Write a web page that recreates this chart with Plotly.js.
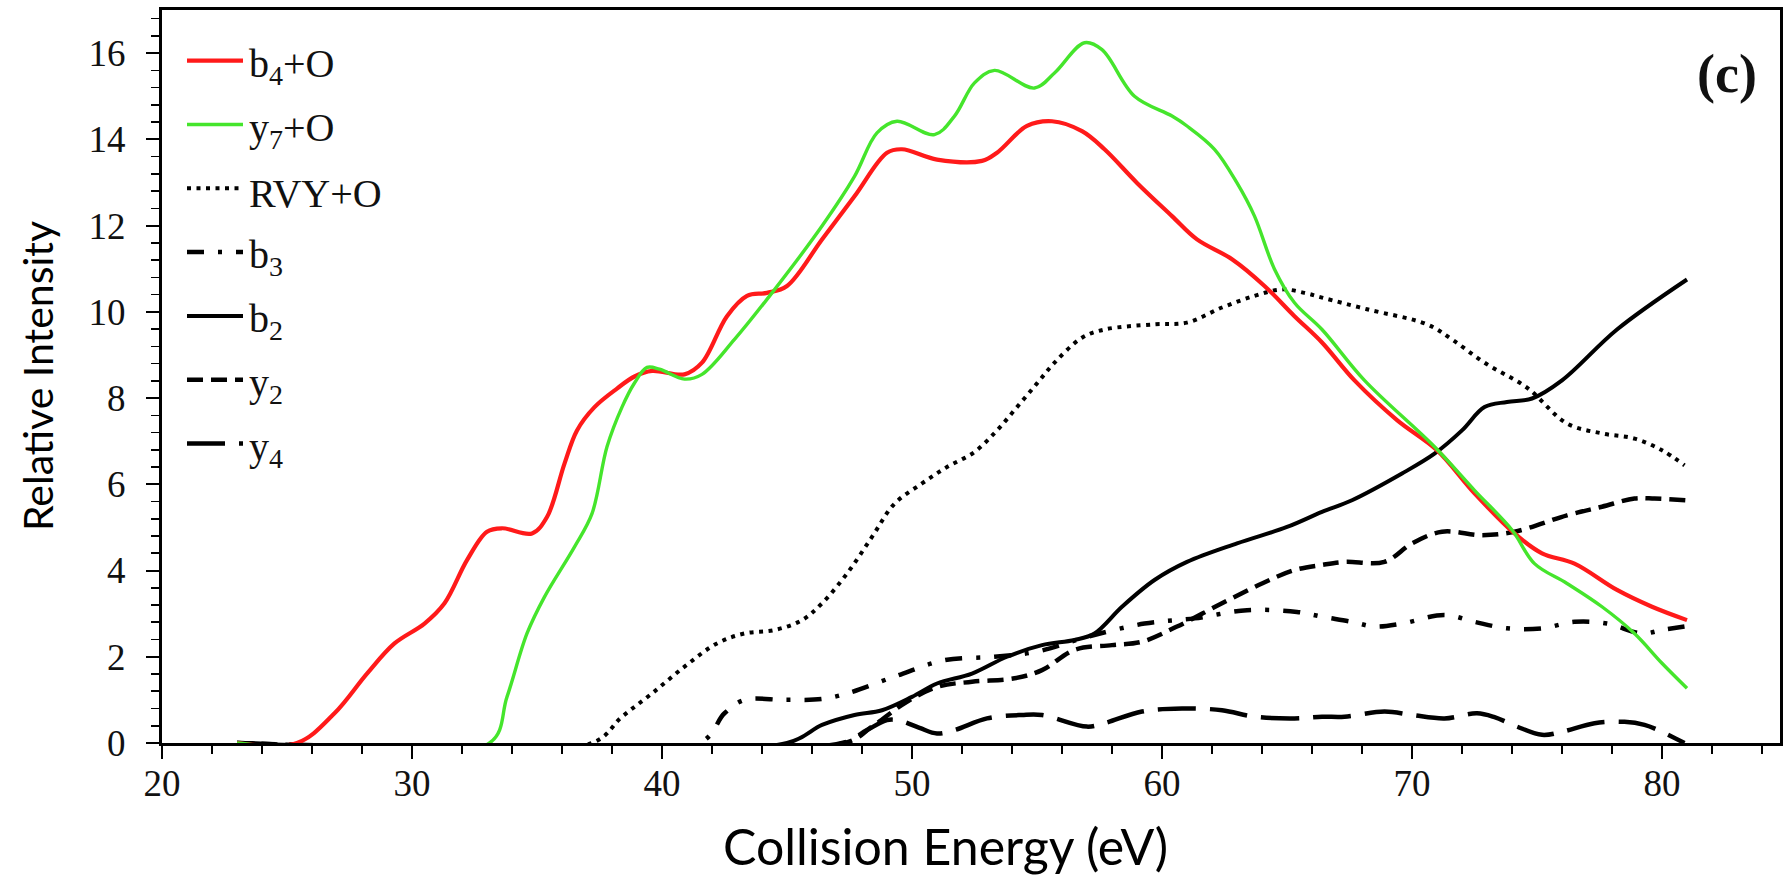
<!DOCTYPE html>
<html>
<head>
<meta charset="utf-8">
<script src="https://cdn.plot.ly/plotly-3.0.1.min.js"></script>
<style>
  html, body { margin: 0; padding: 0; background: #fff; }
  #chart { width: 1785px; height: 896px; }
</style>
</head>
<body>
<div id="chart"></div>
<script>
// Collision energy (eV) and relative intensity for each fragment ion
const b4O_x = [23, 25.4, 26.9, 28.2, 29.3, 30.5, 31.3, 32.2, 33.0, 33.6, 34.8, 35.4, 36.1, 36.6, 37.3, 38.2, 38.9, 39.6, 40.9, 41.6, 42.6, 43.4, 44.2, 45.0, 46.4, 47.7, 49.0, 49.6, 51.0, 52.8, 53.4, 54.6, 55.6, 56.8, 57.7, 59.0, 60.4, 61.4, 62.8, 64.1, 65.3, 66.4, 67.7, 69.4, 71.0, 72.5, 74.1, 75.2, 76.5, 78.2, 79.6, 81.0];
const b4O_y = [0, 0, 0.69, 1.61, 2.31, 2.77, 3.24, 4.24, 4.90, 4.98, 4.86, 5.24, 6.48, 7.25, 7.79, 8.22, 8.50, 8.63, 8.55, 8.82, 9.90, 10.37, 10.44, 10.60, 11.68, 12.68, 13.69, 13.77, 13.53, 13.50, 13.69, 14.31, 14.42, 14.19, 13.77, 12.99, 12.22, 11.68, 11.22, 10.60, 9.90, 9.29, 8.41, 7.49, 6.79, 5.79, 4.86, 4.40, 4.16, 3.55, 3.16, 2.85];

const y7O_x = [23, 33.1, 33.8, 34.6, 35.3, 36.5, 37.2, 37.8, 38.4, 38.9, 39.4, 39.9, 40.9, 41.6, 42.9, 44.4, 46.4, 47.7, 48.6, 49.4, 50.9, 51.7, 52.5, 53.3, 54.9, 55.7, 56.9, 57.6, 58.9, 60.4, 61.0, 62.1, 63.0, 63.7, 64.5, 65.3, 66.4, 68.1, 70.9, 72.5, 74.0, 74.9, 76.2, 77.6, 78.9, 80.0, 81.0];
const y7O_y = [0, 0, 1.07, 2.54, 3.39, 4.55, 5.32, 6.87, 7.79, 8.35, 8.71, 8.67, 8.44, 8.55, 9.36, 10.44, 11.99, 13.14, 14.15, 14.42, 14.11, 14.54, 15.31, 15.60, 15.19, 15.54, 16.24, 16.08, 15.00, 14.54, 14.31, 13.77, 12.99, 12.22, 10.99, 10.21, 9.59, 8.41, 6.87, 5.86, 4.94, 4.16, 3.70, 3.16, 2.54, 1.85, 1.27];

const rvyO_x = [23, 37.2, 38.4, 39.6, 40.9, 42.2, 43.3, 44.5, 45.6, 46.4, 47.4, 48.4, 49.3, 50.4, 51.4, 52.5, 53.4, 54.2, 55.0, 55.7, 56.8, 57.7, 59.7, 61.0, 62.4, 63.7, 64.8, 65.7, 66.4, 68.2, 70.6, 71.6, 72.9, 74.6, 76.2, 77.6, 78.9, 80.0, 80.9];
const rvyO_y = [0, 0, 0.61, 1.15, 1.77, 2.31, 2.54, 2.62, 2.85, 3.24, 3.93, 4.78, 5.55, 6.02, 6.40, 6.75, 7.25, 7.79, 8.34, 8.82, 9.40, 9.59, 9.71, 9.75, 10.10, 10.37, 10.52, 10.44, 10.33, 10.06, 9.71, 9.36, 8.82, 8.24, 7.41, 7.18, 7.06, 6.79, 6.44];

const b3_x = [23, 41.5, 42.5, 43.3, 44.9, 46.4, 47.4, 49.3, 51.3, 53.3, 55.0, 57.0, 59.3, 61.3, 63.4, 65.4, 66.4, 67.6, 68.5, 69.6, 71.3, 72.5, 73.8, 75.2, 76.5, 77.8, 79.2, 80.0, 80.9];
const b3_y = [0, 0, 0.69, 1.00, 1.00, 1.02, 1.15, 1.54, 1.92, 2.00, 2.12, 2.46, 2.77, 2.89, 3.08, 3.04, 2.93, 2.81, 2.70, 2.77, 2.97, 2.81, 2.66, 2.66, 2.81, 2.77, 2.54, 2.62, 2.70];

const b2_x = [23, 45.0, 46.4, 47.7, 48.8, 50.0, 51.0, 52.4, 53.8, 55.2, 56.5, 57.3, 58.4, 59.7, 61.0, 63.0, 65.0, 66.4, 67.6, 69.6, 70.9, 72.0, 72.9, 73.8, 74.8, 76.0, 78.2, 81.0];
const b2_y = [0, 0, 0.42, 0.65, 0.76, 1.07, 1.38, 1.61, 2.00, 2.27, 2.39, 2.54, 3.16, 3.78, 4.20, 4.63, 5.01, 5.36, 5.63, 6.25, 6.71, 7.25, 7.79, 7.91, 7.99, 8.41, 9.59, 10.75];

const y2_x = [23, 47.3, 48.4, 49.7, 51.0, 52.4, 54.1, 55.2, 56.5, 58.0, 59.2, 60.6, 62.4, 64.0, 65.3, 66.4, 67.3, 68.9, 70.0, 71.2, 72.8, 74.1, 76.2, 77.6, 78.9, 79.7, 81.0];
const y2_y = [0, 0, 0.38, 0.92, 1.30, 1.42, 1.50, 1.69, 2.16, 2.27, 2.35, 2.70, 3.24, 3.70, 4.01, 4.13, 4.20, 4.20, 4.63, 4.90, 4.82, 4.90, 5.28, 5.48, 5.67, 5.67, 5.63];

const y4_x = [23, 47.2, 48.2, 49.0, 49.5, 50.3, 51.0, 51.7, 53.0, 54.4, 55.2, 57.0, 57.7, 59.2, 60.8, 62.4, 63.7, 65.3, 66.4, 67.3, 68.9, 70.0, 71.3, 72.6, 73.3, 74.2, 75.2, 76.0, 77.3, 78.5, 79.3, 80.0, 80.9];
const y4_y = [0, 0, 0.30, 0.53, 0.52, 0.35, 0.22, 0.30, 0.57, 0.65, 0.65, 0.38, 0.46, 0.73, 0.80, 0.76, 0.61, 0.57, 0.61, 0.61, 0.73, 0.65, 0.57, 0.69, 0.60, 0.38, 0.19, 0.26, 0.46, 0.49, 0.42, 0.26, 0.0];

const seriesNames = ['b<sub>4</sub>+O', 'y<sub>7</sub>+O', 'RVY+O', 'b<sub>3</sub>', 'b<sub>2</sub>', 'y<sub>2</sub>', 'y<sub>4</sub>'];
const xTickVals = [20, 30, 40, 50, 60, 70, 80];
const yTickVals = [0, 2, 4, 6, 8, 10, 12, 14, 16];
const panelLabel = '(c)';
const xTitle = 'Collision Energy (eV)';
const yTitle = 'Relative Intensity';

// Line styles per series (same order as seriesNames)
const styles = [
  { color: '#ff1a1a', width: 4.2, dash: 'solid' },
  { color: '#45e52c', width: 3.4, dash: 'solid' },
  { color: '#000000', width: 4, dash: '4px,5.5px' },
  { color: '#000000', width: 4.5, dash: '17px,14px,4px,14px' },
  { color: '#000000', width: 4, dash: 'solid' },
  { color: '#000000', width: 4.5, dash: '16px,8px' },
  { color: '#000000', width: 4.5, dash: '38px,14px' }
];
const seriesX = [b4O_x, y7O_x, rvyO_x, b3_x, b2_x, y2_x, y4_x];
const seriesY = [b4O_y, y7O_y, rvyO_y, b3_y, b2_y, y2_y, y4_y];

// Draw black curves first so the coloured ones sit on top
const drawOrder = [2, 3, 4, 5, 6, 0, 1];
const traces = drawOrder.map(i => ({
  type: 'scatter',
  mode: 'lines',
  name: seriesNames[i],
  x: seriesX[i],
  y: seriesY[i],
  line: { color: styles[i].color, width: styles[i].width, dash: styles[i].dash, shape: 'spline', smoothing: 1.0 },
  showlegend: false,
  hoverinfo: 'x+y+name'
}));

// Plot-area geometry (pixels) used to place the hand-drawn key and titles
const M = { l: 162, r: 5, t: 10, b: 153 };
const W = 1785, H = 896;
const PW = W - M.l - M.r, PH = H - M.t - M.b;
const px = v => (v - M.l) / PW;
const py = v => (H - M.b - v) / PH;

const serif = 'Liberation Serif, Times New Roman, DejaVu Serif, serif';
const sans = 'Lato, Open Sans, sans-serif';
const keyTop = 60.7, keyStep = 63.8, keyX0 = 187, keyX1 = 243, keyText = 247;
const shapes = [];
const annotations = [];
seriesNames.forEach((name, i) => {
  const yy = keyTop + i * keyStep;
  shapes.push({
    type: 'line', xref: 'paper', yref: 'paper',
    x0: px(keyX0), x1: px(keyX1), y0: py(yy), y1: py(yy),
    line: { color: styles[i].color, width: styles[i].width, dash: styles[i].dash }
  });
  annotations.push({
    xref: 'paper', yref: 'paper', x: px(keyText), y: py(yy + 5),
    xanchor: 'left', yanchor: 'middle', showarrow: false,
    text: name,
    font: { family: serif, size: 40, color: '#111' }
  });
});
annotations.push({
  xref: 'paper', yref: 'paper', x: px(1727), y: py(74),
  xanchor: 'center', yanchor: 'middle', showarrow: false,
  text: panelLabel,
  font: { family: serif, size: 54, color: '#111', weight: 'bold' }
});
// Axis titles
annotations.push({
  xref: 'paper', yref: 'paper', x: px(945), y: py(846),
  xanchor: 'center', yanchor: 'middle', showarrow: false,
  text: xTitle,
  font: { family: sans, size: 50, color: '#000' }
});
annotations.push({
  xref: 'paper', yref: 'paper', x: px(37), y: py(376),
  xanchor: 'center', yanchor: 'middle', showarrow: false,
  textangle: -90,
  text: yTitle,
  font: { family: sans, size: 41, color: '#000' }
});

const tickFont = { family: serif, size: 37, color: '#111' };

const layout = {
  width: W, height: H,
  margin: M,
  paper_bgcolor: '#fff',
  plot_bgcolor: '#fff',
  showlegend: false,
  xaxis: {
    range: [20, 84.72],
    tickmode: 'array', tickvals: xTickVals,
    ticks: 'outside', ticklen: 13, tickwidth: 2, tickcolor: '#000',
    minor: { dtick: 2, tick0: 20, ticks: 'outside', ticklen: 8, tickwidth: 1.6, tickcolor: '#000', showgrid: false },
    showgrid: false, zeroline: false,
    showline: true, linecolor: '#000', linewidth: 3, mirror: true,
    tickfont: tickFont,
    ticklabelposition: 'outside',
    ticklabelstandoff: -7,
    automargin: false
  },
  yaxis: {
    range: [0, 17],
    tickmode: 'array', tickvals: yTickVals,
    ticks: 'outside', ticklen: 13, tickwidth: 2, tickcolor: '#000',
    minor: { dtick: 0.4, tick0: 0, ticks: 'outside', ticklen: 8, tickwidth: 1.6, tickcolor: '#000', showgrid: false },
    showgrid: false, zeroline: false,
    showline: true, linecolor: '#000', linewidth: 3, mirror: true,
    tickfont: tickFont,
    ticklabelposition: 'outside',
    ticklabelstandoff: 13,
    automargin: false
  },
  shapes: shapes,
  annotations: annotations
};

Plotly.newPlot('chart', traces, layout, { displayModeBar: false, staticPlot: true });
</script>
</body>
</html>
